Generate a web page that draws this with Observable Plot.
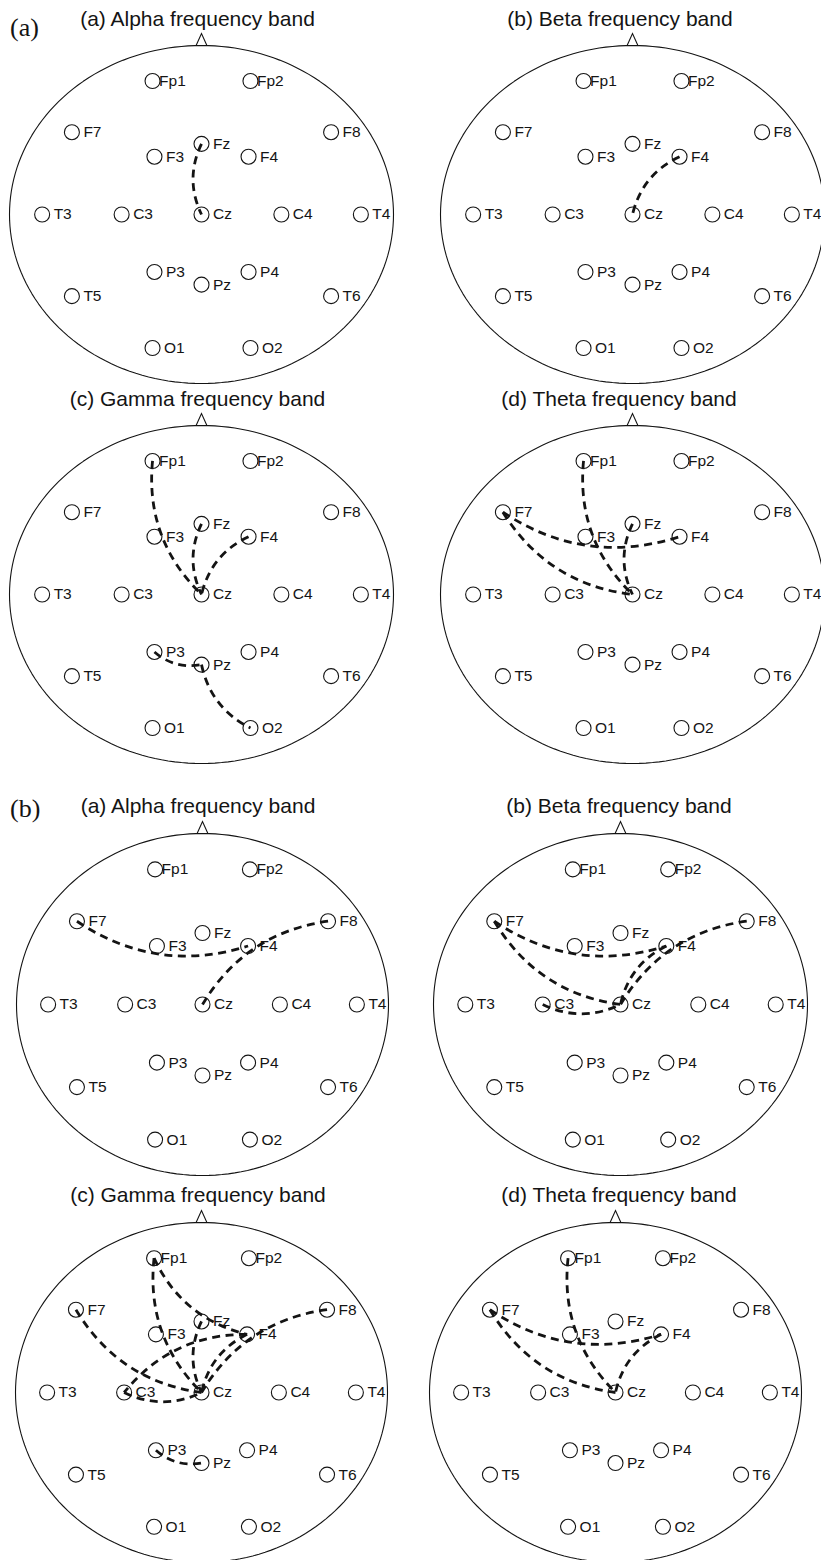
<!DOCTYPE html>
<html>
<head>
<meta charset="utf-8">
<script src="https://cdn.jsdelivr.net/npm/d3@7"></script>
<script src="https://cdn.jsdelivr.net/npm/@observablehq/plot@0.6"></script>
<style>
  html, body { margin: 0; padding: 0; background: #fff; overflow: hidden; }
  #page { position: relative; width: 821px; height: 1560px; overflow: hidden; background: #fff; }
  #page svg.panel { position: absolute; }
  #overlay { position: absolute; left: 0; top: 0; pointer-events: none; }
</style>
</head>
<body>
<div id="page"></div>
<script>
// ---------------- DATA ----------------
// 10-20 montage electrodes (normalized head coordinates: x right, y towards nose)
const electrodes = ["Fp1","Fp2","F7","F3","Fz","F4","F8","T3","C3","Cz","C4","T4","T5","P3","Pz","P4","T6","O1","O2"];
const electrodeX = [-0.255, 0.255, -0.675, -0.245, 0, 0.245, 0.675, -0.83, -0.416, 0, 0.416, 0.83, -0.675, -0.245, 0, 0.245, 0.675, -0.255, 0.255];
const electrodeY = [0.79, 0.79, 0.487, 0.342, 0.418, 0.342, 0.487, 0, 0, 0, 0, 0, -0.483, -0.34, -0.415, -0.34, -0.483, -0.79, -0.79];

const groupLabels = ["(a)", "(b)"];
const bandTitles = ["(a) Alpha frequency band", "(b) Beta frequency band", "(c) Gamma frequency band", "(d) Theta frequency band"];

// connections (pairs of electrodes) per group and band
const linksA_alpha = [["Fz","Cz"]];
const linksA_beta  = [["F4","Cz"]];
const linksA_gamma = [["Fp1","Cz"],["Fz","Cz"],["F4","Cz"],["P3","Pz"],["Pz","O2"]];
const linksA_theta = [["Fp1","Cz"],["F7","F4"],["F7","Cz"],["Fz","Cz"]];
const linksB_alpha = [["F7","F4"],["F8","Cz"]];
const linksB_beta  = [["F7","F4"],["F7","Cz"],["F8","Cz"],["F4","Cz"],["C3","Cz"]];
const linksB_gamma = [["Fp1","Cz"],["Fp1","F4"],["F7","Cz"],["F8","Cz"],["F4","Cz"],["F4","C3"],["C3","Cz"],["Fz","Cz"],["P3","Pz"]];
const linksB_theta = [["Fp1","Cz"],["F7","F4"],["F7","Cz"],["F4","Cz"]];

// ---------------- LAYOUT ----------------
const panels = [
  {links: linksA_alpha, title: 0, cx: 200.5, cy: 214,  a: 192, b: 169, tx: 197.5, ty: 26},
  {links: linksA_beta,  title: 1, cx: 632,   cy: 214,  a: 192, b: 169, tx: 620,   ty: 26},
  {links: linksA_gamma, title: 2, cx: 200.5, cy: 594,  a: 192, b: 169, tx: 197.5, ty: 406},
  {links: linksA_theta, title: 3, cx: 632,   cy: 594,  a: 192, b: 169, tx: 619,   ty: 406},
  {links: linksB_alpha, title: 0, cx: 202,   cy: 1004, a: 186, b: 171, tx: 198,   ty: 813},
  {links: linksB_beta,  title: 1, cx: 620,   cy: 1004, a: 187, b: 171, tx: 619,   ty: 813},
  {links: linksB_gamma, title: 2, cx: 201,   cy: 1392, a: 186, b: 170, tx: 198,   ty: 1202},
  {links: linksB_theta, title: 3, cx: 615,   cy: 1392, a: 186, b: 170, tx: 619,   ty: 1202}
];
const groupPos = [{x: 10, y: 36}, {x: 10, y: 817}];

const INK = "#141414";
const SANS = "'Liberation Sans', Arial, Helvetica, sans-serif";

// ---------------- BUILD ----------------
const elec = electrodes.map((name, i) => ({name, x: electrodeX[i], y: electrodeY[i]}));
const byName = new Map(elec.map(d => [d.name, d]));

// head outline (unit circle in normalized coordinates -> ellipse on screen)
const head = d3.range(0, 360, 2).map(deg => ({x: Math.cos(deg * Math.PI / 180), y: Math.sin(deg * Math.PI / 180)}));

// nose symbol: open chevron sitting on the top of the head
const noseSymbol = {
  draw(ctx, size) {
    const r = Math.sqrt(size / Math.PI);
    ctx.moveTo(-0.45 * r, 0);
    ctx.lineTo(0, -r);
    ctx.lineTo(0.45 * r, 0);
  }
};

// curved connection: quadratic arc bulging to the right of travel
const BULGE = 0.12;
function arcCurve(context) {
  let pts = [];
  return {
    areaStart() {}, areaEnd() {},
    lineStart() { pts = []; },
    point(x, y) { pts.push([+x, +y]); },
    lineEnd() {
      if (pts.length < 2) return;
      const [[x0, y0], [x1, y1]] = pts;
      const dx = x1 - x0, dy = y1 - y0;
      const k = 2 * BULGE;
      const qx = (x0 + x1) / 2 - dy * k, qy = (y0 + y1) / 2 + dx * k;
      context.moveTo(x0, y0);
      context.quadraticCurveTo(qx, qy, x1, y1);
    }
  };
}

const page = document.getElementById("page");

panels.forEach(p => {
  const m = 16;
  const W = 2 * p.a + 2 * m, H = 2 * p.b + 2 * m;
  const links = p.links.map(([s, t]) => ({
    x1: byName.get(s).x, y1: byName.get(s).y,
    x2: byName.get(t).x, y2: byName.get(t).y
  }));
  const svg = Plot.plot({
    width: W, height: H,
    marginTop: 0, marginRight: 0, marginBottom: 0, marginLeft: 0,
    x: {domain: [-1 - m / p.a, 1 + m / p.a], axis: null},
    y: {domain: [-1 - m / p.b, 1 + m / p.b], axis: null},
    style: {background: "none", overflow: "visible", fontFamily: SANS},
    marks: [
      Plot.line(head, {x: "x", y: "y", curve: "linear-closed", stroke: INK, strokeWidth: 1.1}),
      Plot.dot([{x: 0, y: 1}], {x: "x", y: "y", symbol: noseSymbol, r: 12, stroke: INK, fill: "none", strokeWidth: 1.1}),
      Plot.dot(elec, {x: "x", y: "y", r: 7.5, stroke: INK, fill: "none", strokeWidth: 1.1}),
      Plot.text(elec, {filter: d => !d.name.startsWith("Fp"), x: "x", y: "y", text: "name", dx: 11.5, textAnchor: "start", fontSize: 15.5, fill: INK}),
      Plot.text(elec, {filter: d => d.name.startsWith("Fp"), x: "x", y: "y", text: "name", dx: 6.5, textAnchor: "start", fontSize: 15.5, fill: INK}),
      Plot.link(links, {x1: "x1", y1: "y1", x2: "x2", y2: "y2", curve: arcCurve, stroke: INK, strokeWidth: 2.8, strokeDasharray: "8,5.5", fill: "none"})
    ]
  });
  svg.classList.add("panel");
  svg.style.left = (p.cx - p.a - m) + "px";
  svg.style.top = (p.cy - p.b - m) + "px";
  svg.style.maxWidth = "none";
  page.appendChild(svg);
});

// titles and group labels
const overlay = d3.select(page).append("svg")
  .attr("id", "overlay").attr("width", 821).attr("height", 1560);
overlay.selectAll("text.title").data(panels).join("text")
  .attr("class", "title")
  .attr("x", d => d.tx).attr("y", d => d.ty)
  .attr("text-anchor", "middle")
  .attr("font-family", SANS).attr("font-size", 21).attr("fill", INK)
  .text(d => bandTitles[d.title]);
overlay.selectAll("text.group").data(groupLabels).join("text")
  .attr("class", "group")
  .attr("x", (d, i) => groupPos[i].x).attr("y", (d, i) => groupPos[i].y)
  .attr("font-family", "'Liberation Serif', 'Times New Roman', serif").attr("font-size", 26).attr("fill", INK)
  .text(d => d);
</script>
</body>
</html>
